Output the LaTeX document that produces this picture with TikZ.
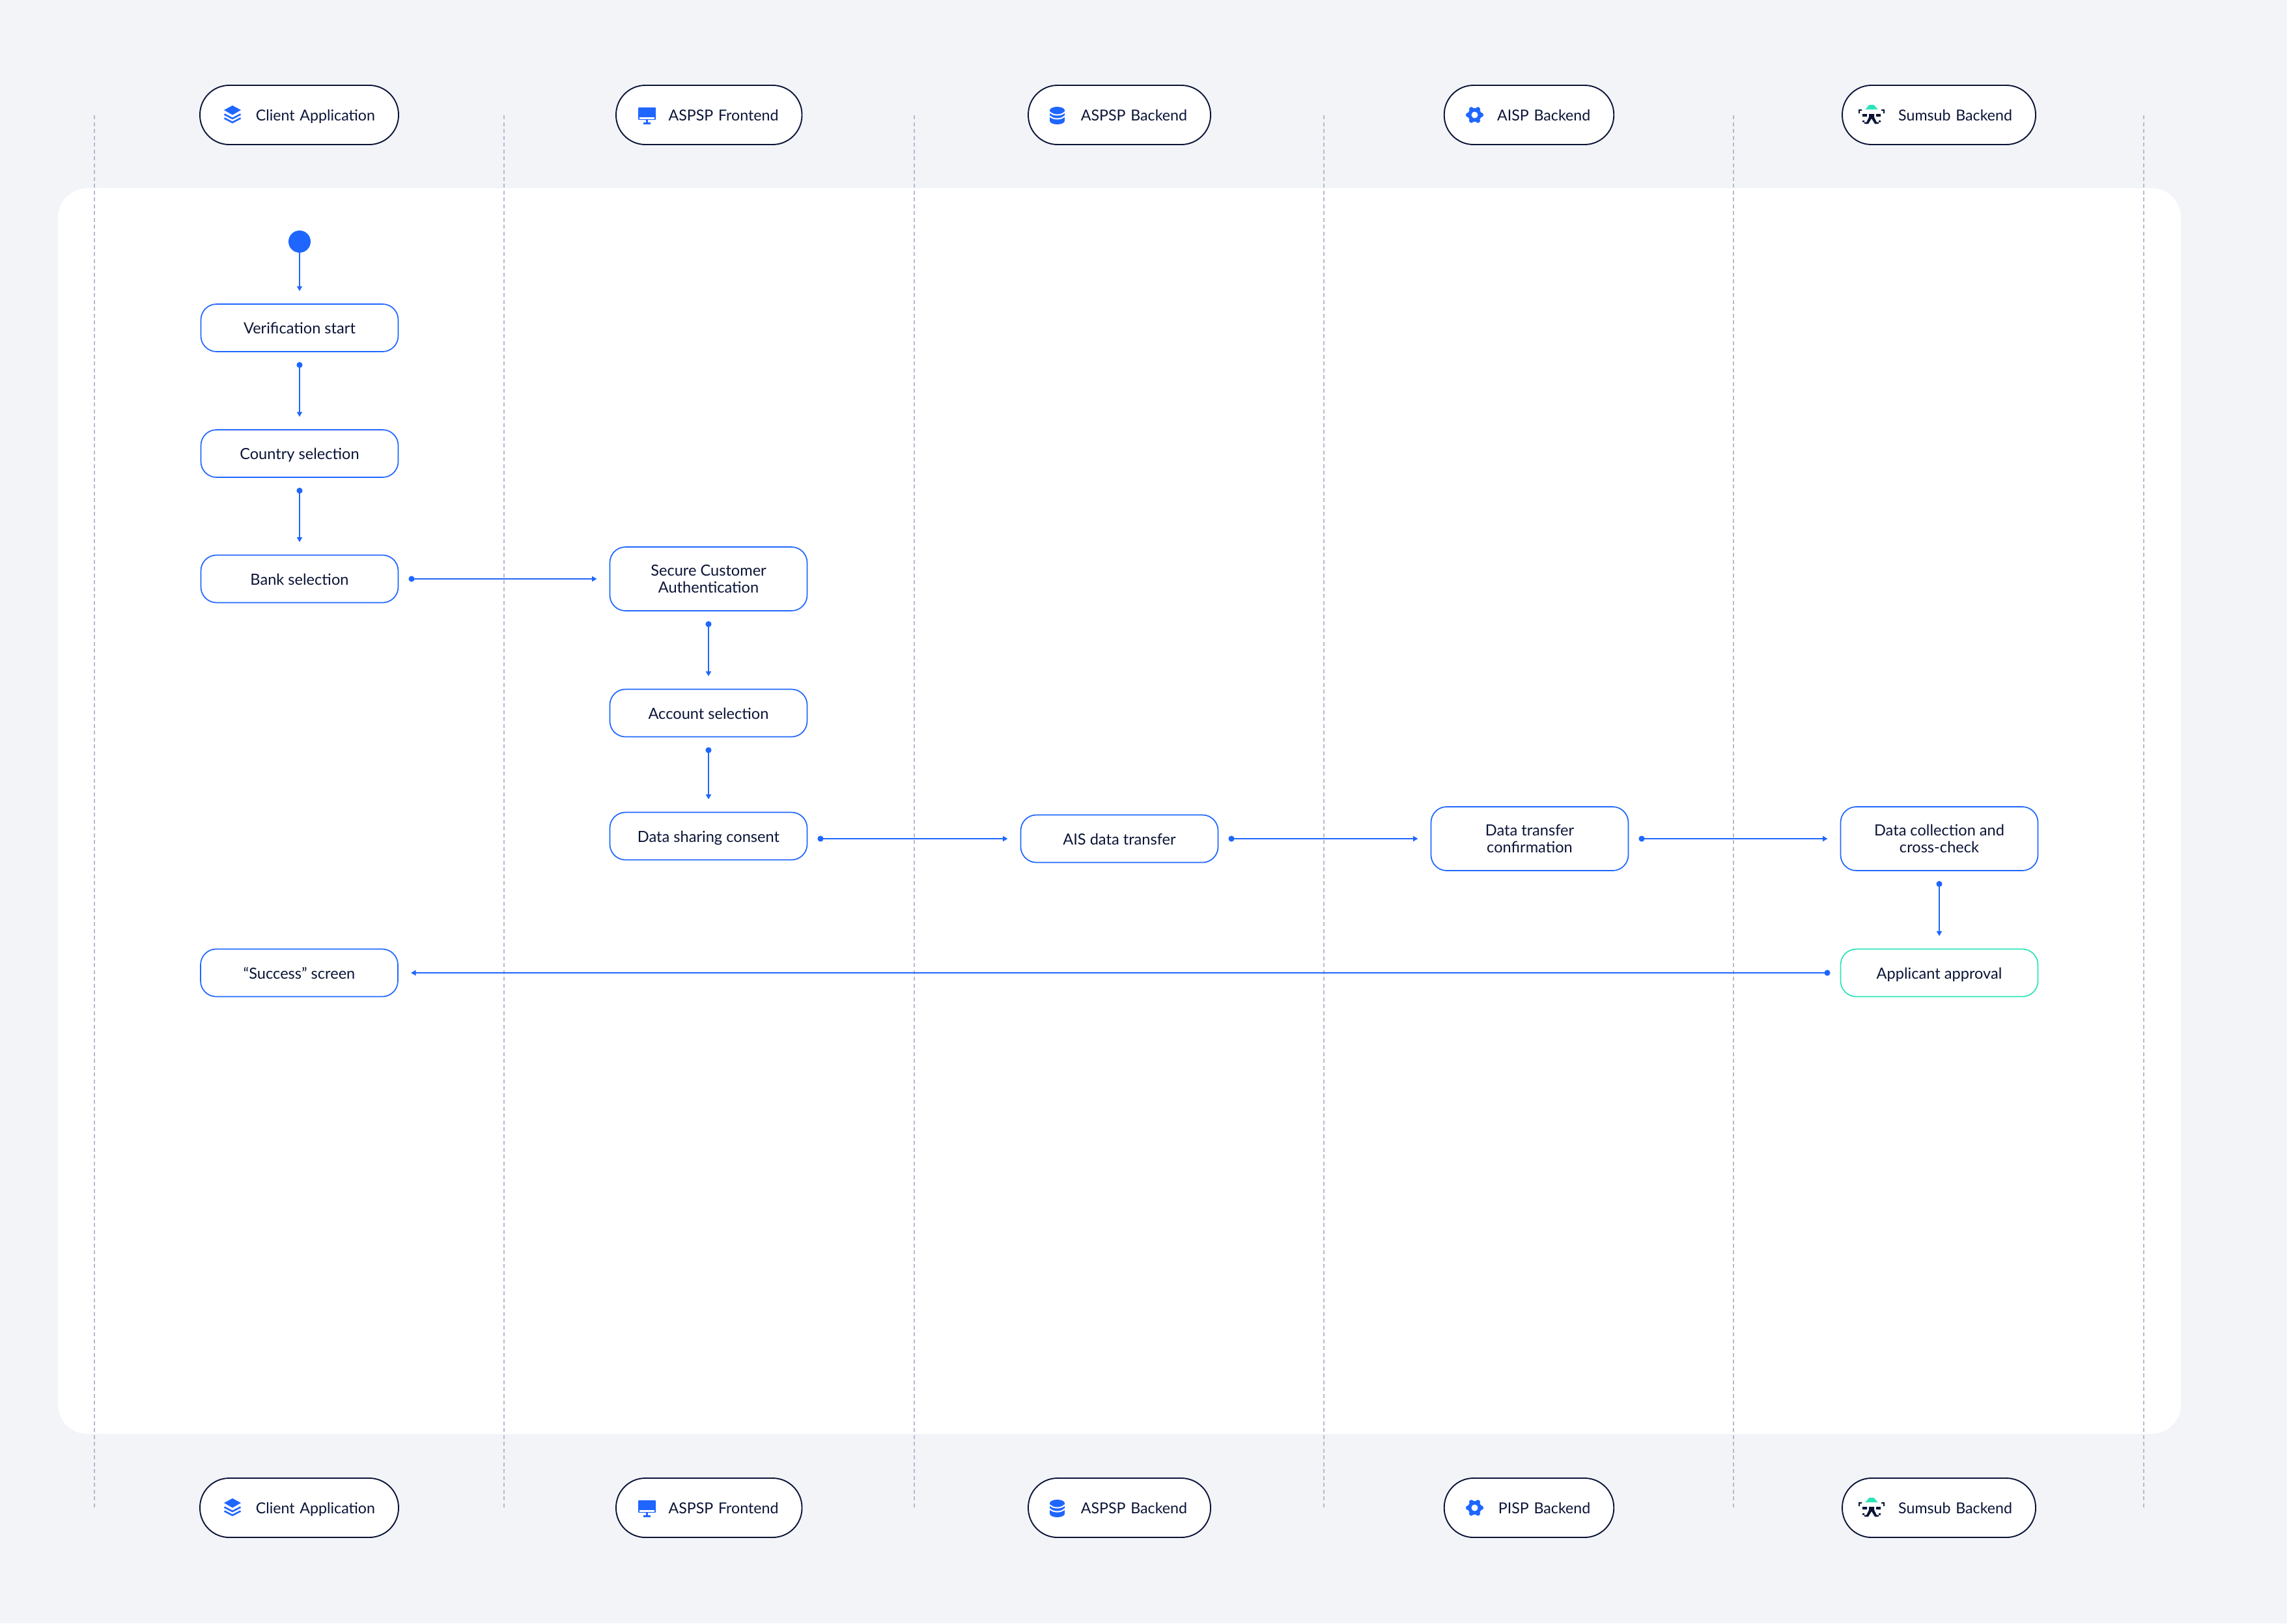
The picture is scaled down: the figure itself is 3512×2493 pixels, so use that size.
\documentclass[tikz,border=0pt]{standalone}
\usepackage{xcolor}
\usepackage{fontspec}
\setmainfont{Lato}
\usepackage{tikz}
\usetikzlibrary{positioning,arrows.meta}

\definecolor{pagebg}{HTML}{F2F4F8}
\definecolor{inkblue}{HTML}{1F66FF}
\definecolor{inkdark}{HTML}{0B1437}
\definecolor{inkgreen}{HTML}{2BE4B8}
\definecolor{lanegray}{HTML}{B4BBCE}

\tikzset{
  boxtext/.style={font=\fontsize{23.6}{26}\selectfont,text=inkdark,align=center,text height=23.5pt,text depth=5.5pt},
  flowbox/.style={boxtext,rectangle,draw=inkblue,fill=white,line width=1.7pt,rounded corners=24pt,minimum width=303pt,minimum height=73pt,inner sep=0pt,outer sep=0pt},
  tallbox/.style={flowbox,minimum height=98pt,text height=48pt,text depth=6pt},
  donebox/.style={flowbox,draw=inkgreen},
  pill/.style={font=\fontsize{23.2}{26}\selectfont,text=inkdark,align=right,text height=23.5pt,text depth=5.5pt,rectangle,draw=inkdark,fill=white,line width=1.9pt,rounded corners=45pt,minimum height=91pt,inner xsep=36pt,inner ysep=0pt,outer sep=0pt},
  startdot/.style={circle,fill=inkblue,minimum size=34pt,inner sep=0pt,outer sep=0pt},
  startline/.style={draw=inkblue,line width=1.8pt,-{Triangle[length=7.5pt,width=8pt]},shorten >=20pt},
  flowline/.style={startline,{Circle[length=9pt,width=9pt]}-{Triangle[length=7.5pt,width=8pt]},shorten <=16pt},
  lane/.style={draw=lanegray,line width=1.6pt,dash pattern=on 6pt off 4.5pt},
  stackicon/.pic={
    \fill[inkblue] (-13,-7) -- (0,-14) -- (13,-7) -- (0,0.5) -- cycle ;
    \draw[inkblue,line width=2.6pt] (-12.5,-0.5) -- (0,6) -- (12.5,-0.5) ;
    \draw[inkblue,line width=2.6pt] (-12.5,5.5) -- (0,12) -- (12.5,5.5) ;
  },
  screenicon/.pic={
    \fill[inkblue,rounded corners=1pt] (-13.5,-11.5) rectangle (13.5,7.5) ;
    \fill[white] (-11.5,3.5) rectangle (11.5,6.5) ;
    \fill[inkblue] (-1.5,7.5) rectangle (1.5,12) ;
    \fill[inkblue] (-5.5,11.5) rectangle (5.5,14.5) ;
  },
  baseicon/.pic={
    \fill[inkblue] (0,-7) ellipse (11.5pt and 5.5pt) ;
    \fill[inkblue] (0,9) ellipse (11.5pt and 5.5pt) ;
    \fill[inkblue] (-11.5,-7) rectangle (11.5,9) ;
    \draw[white,line width=2pt] (-11.5,-4.5) .. controls (-7,1.5) and (7,1.5) .. (11.5,-4.5) ;
    \draw[white,line width=2pt] (-11.5,1.5) .. controls (-7,7.5) and (7,7.5) .. (11.5,1.5) ;
  },
  gearicon/.pic={
    \fill[inkblue] (0,0) circle (10.5pt) ;
    \fill[inkblue] (0:10) circle (3.6pt) (60:10) circle (3.6pt) (120:10) circle (3.6pt) (180:10) circle (3.6pt) (240:10) circle (3.6pt) (300:10) circle (3.6pt) ;
    \fill[white] (0,0) circle (5pt) ;
  },
  sumsubicon/.pic={
    \fill[inkgreen] (-9.5,-8) -- (-3.5,-15) -- (3.5,-15) -- (9.5,-8) -- cycle ;
    \fill[inkdark] (-20,-8) rectangle (-15,-6) (-20,-8) rectangle (-18,-2) (20,-8) rectangle (15,-6) (20,-8) rectangle (18,-2) ;
    \fill[inkdark] (-4,-1) rectangle (4,5) (-14,-1) rectangle (-7,3) (14,-1) rectangle (7,3) ;
    \fill[inkdark] (-4,4) -- (-9,14) -- (-5,14) -- (0,6) -- (5,14) -- (9,14) -- (4,4) -- cycle ;
    \fill[inkdark] (-14,9) rectangle (-11,11.5) (-11,11.5) rectangle (-5,14) (14,9) rectangle (11,11.5) (11,11.5) rectangle (5,14) ;
  }
}

\begin{document}
\begin{tikzpicture}[x=1pt,y=-1pt]

\fill[pagebg] (0,0) rectangle (3512,2493) ;
\fill[white,rounded corners=45pt] (89,289) rectangle (3349,2202) ;

\coordinate (t1) at (145,177) ;
\coordinate (t2) at (774,177) ;
\coordinate (t3) at (1404,177) ;
\coordinate (t4) at (2033,177) ;
\coordinate (t5) at (2662,177) ;
\coordinate (t6) at (3292,177) ;
\coordinate (b1) at (145,2316) ;
\coordinate (b2) at (774,2317) ;
\coordinate (b3) at (1404,2317) ;
\coordinate (b4) at (2033,2317) ;
\coordinate (b5) at (2662,2317) ;
\coordinate (b6) at (3292,2317) ;

\draw[lane] (t1) -- (b1) ;
\draw[lane] (t2) -- (b2) ;
\draw[lane] (t3) -- (b3) ;
\draw[lane] (t4) -- (b4) ;
\draw[lane] (t5) -- (b5) ;
\draw[lane] (t6) -- (b6) ;

\node[pill,text width=233pt] (p1) at (459.5,176.5) {Client Application} ;
\node[pill,text width=213.5pt] (p2) at (1088.75,176.5) {ASPSP Frontend} ;
\node[pill,text width=208pt] (p3) at (1719,176.5) {ASPSP Backend} ;
\node[pill,text width=188.5pt] (p4) at (2348,176.5) {AISP Backend} ;
\node[pill,text width=225pt] (p5) at (2977.5,176.5) {Sumsub Backend} ;

\node[pill,text width=233pt] (q1) at (459.5,2315.5) {Client Application} ;
\node[pill,text width=213.5pt] (q2) at (1088.75,2315.5) {ASPSP Frontend} ;
\node[pill,text width=208pt] (q3) at (1719,2315.5) {ASPSP Backend} ;
\node[pill,text width=188.5pt] (q4) at (2348,2315.5) {PISP Backend} ;
\node[pill,text width=225pt] (q5) at (2977.5,2315.5) {Sumsub Backend} ;

\pic at (357,176) {stackicon} ;
\pic at (993.5,176.5) {screenicon} ;
\pic at (1623.5,176.5) {baseicon} ;
\pic at (2264.5,176.5) {gearicon} ;
\pic at (2874,176) {sumsubicon} ;
\pic at (357,2315) {stackicon} ;
\pic at (993.5,2315.5) {screenicon} ;
\pic at (1623.5,2315.5) {baseicon} ;
\pic at (2264.5,2315.5) {gearicon} ;
\pic at (2874,2315) {sumsubicon} ;

\node[startdot] (n0) at (460,371) {} ;
\node[flowbox] (n1) at (460,503.5) {Verification start} ;
\node[flowbox] (n2) at (460,696.5) {Country selection} ;
\node[flowbox] (n3) at (460,889) {Bank selection} ;
\node[tallbox] (n4) at (1088,889) {Secure Customer\\Authentication} ;
\node[flowbox] (n5) at (1088,1095) {Account selection} ;
\node[flowbox] (n6) at (1088,1284) {Data sharing consent} ;
\node[flowbox] (n7) at (1719,1288) {AIS data transfer} ;
\node[tallbox] (n8) at (2349,1288) {Data transfer\\confirmation} ;
\node[tallbox] (n9) at (2978,1288) {Data collection and\\cross-check} ;
\node[donebox] (n10) at (2978,1494) {Applicant approval} ;
\node[flowbox] (n11) at (459.5,1494) {“Success” screen} ;

\draw[startline] (n0) -- (n1) ;
\draw[flowline] (n1) -- (n2) ;
\draw[flowline] (n2) -- (n3) ;
\draw[flowline] (n3) -- (n4) ;
\draw[flowline] (n4) -- (n5) ;
\draw[flowline] (n5) -- (n6) ;
\draw[flowline] (n6.east |- n7.west) -- (n7.west) ;
\draw[flowline] (n7) -- (n8) ;
\draw[flowline] (n8) -- (n9) ;
\draw[flowline] (n9) -- (n10) ;
\draw[flowline] (n10) -- (n11) ;

\end{tikzpicture}
\end{document}
